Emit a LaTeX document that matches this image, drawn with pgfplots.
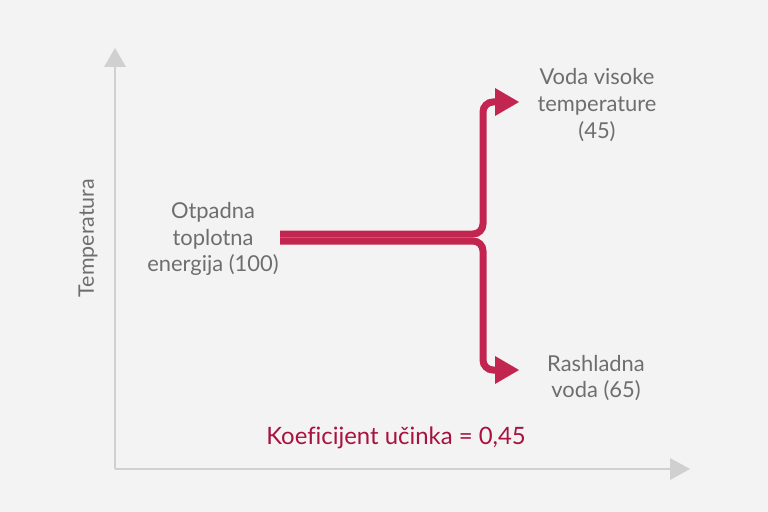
\documentclass[border=0pt]{standalone}
\usepackage{fontspec}
\setmainfont{Lato}[Ligatures=NoCommon]
\usepackage{pgfplots}
\pgfplotsset{compat=1.18}

\definecolor{bg}{HTML}{F3F3F3}
\definecolor{axisgray}{HTML}{D0D0D0}
\definecolor{txtgray}{HTML}{6E6E6E}
\definecolor{flow}{HTML}{C2254F}
\definecolor{lgred}{HTML}{A8123F}

\begin{document}
\begin{tikzpicture}
\begin{axis}[
    scale only axis,
    width=768bp, height=512bp,
    xmin=0, xmax=768, ymin=0, ymax=512,
    y dir=reverse,
    hide axis,
    clip=false,
]
% background
\addplot[draw=none, fill=bg] coordinates {(0,0) (768,0) (768,512) (0,512)} --cycle;

% axes
\addplot[axisgray, line width=2bp] coordinates {(115,469) (115,62)};
\addplot[draw=none, fill=axisgray] coordinates {(104,67) (115,48) (126,67)} --cycle;
\addplot[axisgray, line width=2bp] coordinates {(115,469) (672,469)};
\addplot[draw=none, fill=axisgray] coordinates {(670,458) (690,469) (670,480)} --cycle;

% flows
\addplot[flow, line width=7bp, rounded corners=10bp] coordinates {(280,234) (483,234) (483,102) (500,102)};
\addplot[flow, line width=7bp, rounded corners=10bp] coordinates {(280,241) (483,241) (483,370) (500,370)};
\addplot[draw=none, fill=flow] coordinates {(495,88) (519,102) (495,116)} --cycle;
\addplot[draw=none, fill=flow] coordinates {(495,356) (519,370) (495,384)} --cycle;

% labels
\node[txtgray, align=center, font=\fontsize{22}{27}\selectfont] at (axis cs:213,239) {Otpadna\\toplotna\\energija (100)};
\node[txtgray, align=center, font=\fontsize{22}{27}\selectfont] at (axis cs:597,105) {Voda visoke\\temperature\\(45)};
\node[txtgray, align=center, font=\fontsize{22}{27}\selectfont] at (axis cs:596,378) {Rashladna\\voda (65)};
\node[lgred, font=\fontsize{24}{28}\selectfont] at (axis cs:396,438) {Koeficijent učinka = 0,45};
\node[txtgray, rotate=90, font=\fontsize{21.5}{24}\selectfont] at (axis cs:88,238) {Temperatura};
\end{axis}
\end{tikzpicture}
\end{document}
